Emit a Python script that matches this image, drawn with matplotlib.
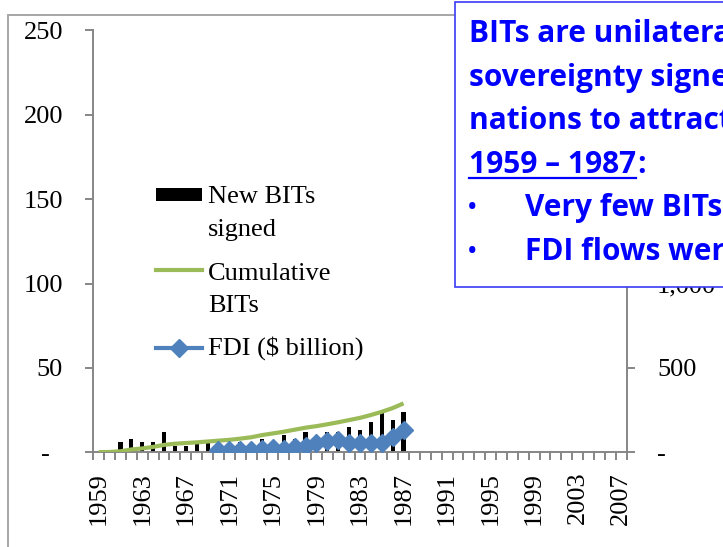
import numpy as np
import matplotlib.pyplot as plt
from matplotlib.patches import Rectangle
from matplotlib.lines import Line2D

# data
years = list(range(1959, 2008))
data_years = list(range(1959, 1988))
new_bits = [1, 1, 6, 8, 6, 6, 12, 4, 4, 5, 6, 3, 4, 6, 5, 8, 5, 10, 8, 12,
            8, 12, 12, 15, 13, 18, 23, 19, 24]
cumulative_bits = [1, 2, 6, 17, 23, 32, 44, 51, 55, 59, 64, 69, 74, 81, 89,
                   102, 112, 122, 134, 146, 155, 166, 178, 191, 204, 221,
                   240, 262, 290]
fdi_years = list(range(1970, 1988))
fdi = [13, 13, 12, 15, 18, 28, 22, 33, 37, 53, 69, 73, 57, 53, 53, 57, 92, 132]

left_ticks = [0, 50, 100, 150, 200, 250]
right_ticks = [0, 500, 1000, 1500, 2000, 2500]

W, H = 723, 547
GRAY = '#868686'
GREEN = '#9BBB59'
BLUE = '#4F81BD'
TXT_BLUE = '#0000FF'
SERIF = 'Liberation Serif'


def fx(px):
    return px / W


def fy(py):
    return (H - py) / H


fig = plt.figure(figsize=(W / 100, H / 100), dpi=100)
fig.patch.set_facecolor('white')

ax = fig.add_axes([0.129, 0.1731, 0.7378, 0.7715])
ax2 = ax.twinx()

pos = {y: i for i, y in enumerate(years)}
xb = [pos[y] for y in data_years]
xf = [pos[y] for y in fdi_years]

ax.bar(xb, new_bits, width=0.38, color='black', zorder=2)
ax2.plot(xb, cumulative_bits, color=GREEN, lw=3, solid_capstyle='butt', zorder=3)
ax2.plot(xf, fdi, color=BLUE, lw=3, marker='D', ms=9.5, zorder=4)

ax.set_xlim(-0.5, len(years) - 0.5)
ax.set_ylim(0, 250)
ax2.set_ylim(0, 2500)

ax.set_xticks(np.arange(0, len(years), 4))
ax.set_xticklabels([str(y) for y in years[::4]], rotation=90,
                   fontsize=19, family=SERIF)
ax.set_xticks(np.arange(-0.5, len(years), 1), minor=True)
ax.tick_params(axis='x', which='major', length=0, pad=14)
ax.tick_params(axis='x', which='minor', length=5.8, width=1.4, color=GRAY,
               direction='out')

ax.set_yticks(left_ticks)
ax.set_yticklabels(['-  '] + [str(v) for v in left_ticks[1:]],
                   fontsize=19, family=SERIF)
ax.tick_params(axis='y', length=5.8, width=1.4, color=GRAY, pad=16)

ax2.set_yticks(right_ticks)
ax2.set_yticklabels(['-'] + [f'{v:,}' for v in right_ticks[1:]],
                    fontsize=19, family=SERIF)
ax2.tick_params(axis='y', length=5.8, width=1.4, color=GRAY, pad=16)

for a in (ax, ax2):
    a.spines['top'].set_visible(False)
    for s in ('left', 'right', 'bottom'):
        a.spines[s].set_color(GRAY)
        a.spines[s].set_linewidth(1.4)
    a.patch.set_visible(False)
ax.spines['right'].set_visible(False)
ax2.spines['left'].set_visible(False)
ax2.spines['bottom'].set_visible(False)

# chart outer border
fig.add_artist(Rectangle((fx(8), -0.2), 2, fy(15) + 0.2, fill=False,
                         edgecolor='#a6a6a6', lw=1.4,
                         transform=fig.transFigure, zorder=0))

# legend
fig.add_artist(Rectangle((fx(156), fy(201)), fx(202) - fx(156), fy(188) - fy(201),
                         facecolor='black', edgecolor='none',
                         transform=fig.transFigure))
fig.add_artist(Line2D([fx(156), fx(202)], [fy(270), fy(270)], color=GREEN,
                      lw=3, transform=fig.transFigure))
fig.add_artist(Line2D([fx(156), fx(202)], [fy(348), fy(348)], color=BLUE,
                      lw=3, transform=fig.transFigure))
fig.add_artist(Line2D([fx(179)], [fy(348)], color=BLUE, marker='D', ms=9.5,
                      transform=fig.transFigure))
legend_lines = [('New BITs', 203), ('signed', 236), ('Cumulative', 280),
                ('BITs', 312), ('FDI ($ billion)', 355)]
for txt, by in legend_lines:
    fig.text(fx(208), fy(by), txt, fontsize=19, family=SERIF,
             va='baseline', ha='left')

# text box
fig.add_artist(Rectangle((fx(455), fy(287)), 1, fy(2) - fy(287) + 0.0,
                         facecolor='white', edgecolor='#3a3af5', lw=1.2,
                         transform=fig.transFigure, zorder=10))
box_kw = dict(fontsize=21.5, family='Open Sans', weight='bold', color=TXT_BLUE,
              va='baseline', ha='left', zorder=11)
base = 42
step = 43.6
fig.text(fx(469), fy(base), 'BITs are unilateral surrenders of', **box_kw)
fig.text(fx(469), fy(base + step), 'sovereignty signed by developing', **box_kw)
fig.text(fx(469), fy(base + 2 * step), 'nations to attract FDI', **box_kw)
t4 = fig.text(fx(469), fy(base + 3 * step), '1959 \u2013 1987', **box_kw)
bullet_kw = dict(box_kw, fontsize=16)
fig.text(fx(468), fy(base + 4 * step - 2), '\u2022', **bullet_kw)
fig.text(fx(525), fy(base + 4 * step), 'Very few BITs signed', **box_kw)
fig.text(fx(468), fy(base + 5 * step - 2), '\u2022', **bullet_kw)
fig.text(fx(525), fy(base + 5 * step), 'FDI flows were low', **box_kw)

r = fig.canvas.get_renderer()
bb = t4.get_window_extent(renderer=r)
fig.text(bb.x1 / W + 0.001, fy(base + 3 * step), ':', **box_kw)
uy = fy(base + 3 * step + 5)
fig.add_artist(Line2D([bb.x0 / W, bb.x1 / W], [uy, uy], color=TXT_BLUE, lw=1.6,
                      transform=fig.transFigure, zorder=11))

fig.savefig('out.png', dpi=100)
